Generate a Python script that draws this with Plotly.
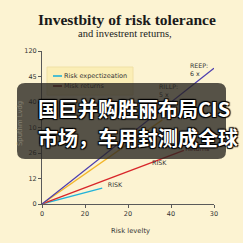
import plotly.graph_objects as go

# ---- data ----
x_ticks = [0, 10, 20, 30, 40]
x_ticktext = ["0", "20", "20", "40", "30"]
y_ticks = [0, 20, 40, 60, 80, 100, 120]
y_ticktext = ["0", "12", "26", "10", "40", "45", "120"]

series_names = ["cyan", "red", "orange", "purple"]
series_x = {
    "cyan": [0, 14],
    "red": [0, 33],
    "orange": [0, 28],
    "purple": [0, 40],
}
series_y = {
    "cyan": [0, 12.5],
    "red": [0, 42],
    "orange": [0, 66],
    "purple": [0, 106.5],
}
series_colors = {
    "cyan": "#22b2d8",
    "red": "#d8262a",
    "orange": "#f2b52a",
    "purple": "#4b3cae",
}

label_text = ["RISK", "RISK", "Returns", "RILLP:<br>5 x", "REEP:<br>6 x"]
label_x = [15.3, 25.6, 33.3, 27.2, 34.4]
label_y = [14.9, 32, 43, 88, 105]
label_color = ["#333333", "#333333", "#6b1a1a", "#333333", "#333333"]

legend_text = ["Risk expectizeation", "Misk returns"]
legend_colors = ["#22b2d8", "#7a1a1a"]
legend_tx = [5.1, 5.1]
legend_ty = [100.4, 92.5]

overlay_lines = ["国巨并购胜丽布局CIS", "市场，车用封测成全球"]

BG = "#fcf3d2"
L, R, T, B = 42, 29, 51, 39
W = H = 243
PW = W - L - R
PH = H - T - B


def px(xp):
    return (xp - L) / PW


def py(yp):
    return (H - B - yp) / PH


fig = go.Figure()

for name in series_names:
    fig.add_trace(go.Scatter(
        x=series_x[name], y=series_y[name], mode="lines",
        line=dict(color=series_colors[name], width=1.3),
        showlegend=False, hoverinfo="skip"))

fig.add_trace(go.Scatter(
    x=label_x, y=label_y, mode="text", text=label_text,
    textposition="middle right",
    textfont=dict(family="DejaVu Sans", size=6.3, color=label_color),
    showlegend=False, hoverinfo="skip", cliponaxis=False))

fig.add_trace(go.Scatter(
    x=legend_tx, y=legend_ty, mode="text", text=legend_text,
    textposition="middle right",
    textfont=dict(family="DejaVu Sans", size=6.5, color="#333333"),
    showlegend=False, hoverinfo="skip", cliponaxis=False))

shapes = []
# legend box
shapes.append(dict(type="rect", xref="paper", yref="paper",
                   x0=px(47), x1=px(133), y0=py(95), y1=py(67),
                   fillcolor="#fbeeb6", line=dict(color="#f0e0a6", width=1),
                   layer="below"))
for i, c in enumerate(legend_colors):
    yy = [76, 86][i]
    shapes.append(dict(type="line", xref="paper", yref="paper",
                       x0=px(53), x1=px(62), y0=py(yy), y1=py(yy),
                       line=dict(color=c, width=1.6), layer="below"))

# overlay rounded box
x0, x1 = px(17), px(226)
y1, y0 = py(83), py(159)
rx, ry = 8 / PW, 8 / PH
path = (f"M {x0+rx},{y1} L {x1-rx},{y1} Q {x1},{y1} {x1},{y1-ry} "
        f"L {x1},{y0+ry} Q {x1},{y0} {x1-rx},{y0} L {x0+rx},{y0} "
        f"Q {x0},{y0} {x0},{y0+ry} L {x0},{y1-ry} Q {x0},{y1} {x0+rx},{y1} Z")
shapes.append(dict(type="path", xref="paper", yref="paper", path=path,
                   fillcolor="rgba(38,36,32,0.78)", line=dict(width=0),
                   layer="above"))

annotations = [
    dict(text="<b>Investbity of risk tolerance</b>", x=px(127), y=py(19),
         xref="paper", yref="paper", showarrow=False, xanchor="center", yanchor="middle",
         font=dict(family="Liberation Serif", size=15.5, color="#1a1a1a")),
    dict(text="and investrent returns,", x=px(125), y=py(33.5),
         xref="paper", yref="paper", showarrow=False, xanchor="center", yanchor="middle",
         font=dict(family="Liberation Serif", size=10.5, color="#1a1a1a")),
    dict(text="Risk levelty", x=px(130), y=py(231),
         xref="paper", yref="paper", showarrow=False, xanchor="center", yanchor="middle",
         font=dict(family="DejaVu Sans", size=6.8, color="#333333")),
    dict(text="Sputhm Lvdg", x=px(20), y=py(124), textangle=-90,
         xref="paper", yref="paper", showarrow=False, xanchor="center", yanchor="middle",
         font=dict(family="DejaVu Sans", size=6.8, color="#858172")),
]
for i, t in enumerate(overlay_lines):
    annotations.append(dict(
        text=t, x=px(36), y=py([108, 137][i]), xref="paper", yref="paper",
        showarrow=False, xanchor="left", yanchor="middle",
        font=dict(family="Noto Sans CJK SC", size=20, color="#ffffff", weight="bold",
                  shadow="1px 1px 1px #000, -1px -1px 1px #000, 1px -1px 1px #000, -1px 1px 1px #000")))

axis_common = dict(showline=True, linecolor="#5a5a5a", linewidth=1, ticks="outside",
                   ticklen=3, tickcolor="#5a5a5a", showgrid=False, zeroline=False,
                   tickfont=dict(family="DejaVu Sans", size=6.5, color="#333333"))

fig.update_layout(
    width=W, height=H, margin=dict(l=L, r=R, t=T, b=B, pad=0),
    paper_bgcolor=BG, plot_bgcolor=BG, showlegend=False,
    xaxis=dict(range=[0, 40], tickvals=x_ticks, ticktext=x_ticktext, **axis_common),
    yaxis=dict(range=[0, 120], tickvals=y_ticks, ticktext=y_ticktext, **axis_common),
    shapes=shapes, annotations=annotations,
)

fig.write_html("out.html", config={"displayModeBar": False})
